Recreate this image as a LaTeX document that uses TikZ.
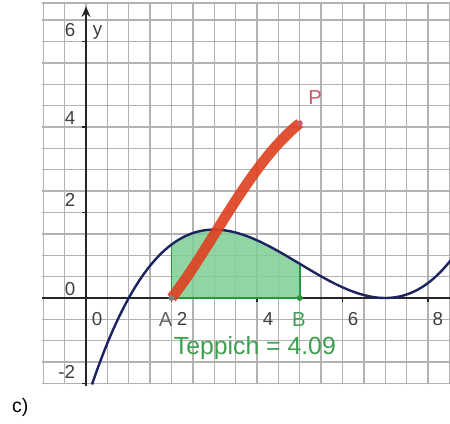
\documentclass[tikz,border=0pt]{standalone}
\usepackage{fontspec}
\setmainfont{Liberation Sans}
\usetikzlibrary{arrows.meta}
\definecolor{gridgray}{RGB}{178,178,178}
\definecolor{curveblue}{RGB}{28,36,96}
\definecolor{areagreen}{RGB}{128,206,150}
\definecolor{edgegreen}{RGB}{40,150,60}
\definecolor{tracered}{RGB}{222,64,30}
\definecolor{labelgreen}{RGB}{60,160,80}
\definecolor{pink}{RGB}{200,90,110}
\begin{document}
\begin{tikzpicture}[x=1cm,y=1cm,
  gridline/.style={draw=gridgray, line width=0.9pt},
  axisline/.style={draw=black!85, line width=1.4pt},
  ticklbl/.style={font=\fontsize{12.5}{12.5}\selectfont, text=black!75, inner sep=0pt},
  ptlbl/.style={font=\fontsize{13.5}{13.5}\selectfont, inner sep=0pt},
  dot/.style={circle, inner sep=0pt, minimum size=4pt}]
\useasboundingbox (-2.012,-2.947) rectangle (8.515,6.971);
\fill[white] (-2.012,-2.947) rectangle (8.515,6.971);
\begin{scope}
  \clip (-2.012,-2.947) rectangle (8.515,6.971);
  \draw[gridline, step=0.5] (-1.03,-2.02) grid (8.6,6.9);
  \draw[gridline] (-1.03,6.9) -- (8.6,6.9);
  % axes
  \draw[axisline] (-1.03,0) -- (8.6,0);
  \draw[axisline, -{Stealth[length=7pt,width=6pt]}] (0,-2.05) -- (0,6.82);
  \foreach \t in {2,4,6,8} \draw[black!85, line width=1pt] (\t,0) -- (\t,-0.1);
  \foreach \t in {-2,2,4,6} \draw[black!85, line width=1pt] (0,\t) -- (-0.1,\t);
  % area
  \fill[areagreen, opacity=0.85] (2,0) -- plot[domain=2:5, samples=40] (\x,{0.05*(\x-1)*(\x-7)*(\x-7)}) -- (5,0) -- cycle;
  \draw[edgegreen, line width=1.2pt] (2,1.25) -- (2,0) -- (5,0) -- (5,0.8);
  % curve
  \draw[curveblue, line width=1.6pt] plot[domain=0.14:8.7, samples=120] (\x,{0.05*(\x-1)*(\x-7)*(\x-7)});
  % trace
  \draw[tracered, opacity=0.9, line width=7pt] plot[domain=2:5, samples=40] (\x,{0.05*((\x-1)^4/4 - 4*(\x-1)^3 + 18*(\x-1)^2) - 0.7125});
\end{scope}
% points
\node[dot, fill=gray] (A) at (2,0) {};
\node[dot, fill=edgegreen] (B) at (5,0) {};
\node[dot, fill=pink] (P) at (5,4.0875) {};
% tick labels
\node[ticklbl] (y6) at (-0.37,6.27) {6};
\node[ticklbl] (y4) at (-0.37,4.21) {4};
\node[ticklbl] (y2) at (-0.37,2.29) {2};
\node[ticklbl] (y0) at (-0.37,0.2) {0};
\node[ticklbl] (ym2) at (-0.45,-1.73) {-2};
\node[ticklbl] (x0) at (0.26,-0.5) {0};
\node[ticklbl] (x2) at (2.25,-0.5) {2};
\node[ticklbl] (x4) at (4.26,-0.5) {4};
\node[ticklbl] (x6) at (6.25,-0.5) {6};
\node[ticklbl] (x8) at (8.23,-0.5) {8};
\node[ticklbl] (ylab) at (0.27,6.2) {y};
% point labels
\node[ptlbl, text=black!60] (Alab) at (1.86,-0.5) {A};
\node[ptlbl, text=labelgreen] (Blab) at (4.98,-0.5) {B};
\node[ptlbl, text=pink] (Plab) at (5.36,4.7) {P};
\node[font=\fontsize{16.5}{16.5}\selectfont, text=labelgreen, inner sep=0pt] (tep) at (3.95,-1.17) {Teppich = 4.09};
\node[font=\fontsize{13}{13}\selectfont, inner sep=0pt] (c) at (-1.54,-2.57) {c)};
\end{tikzpicture}
\end{document}
